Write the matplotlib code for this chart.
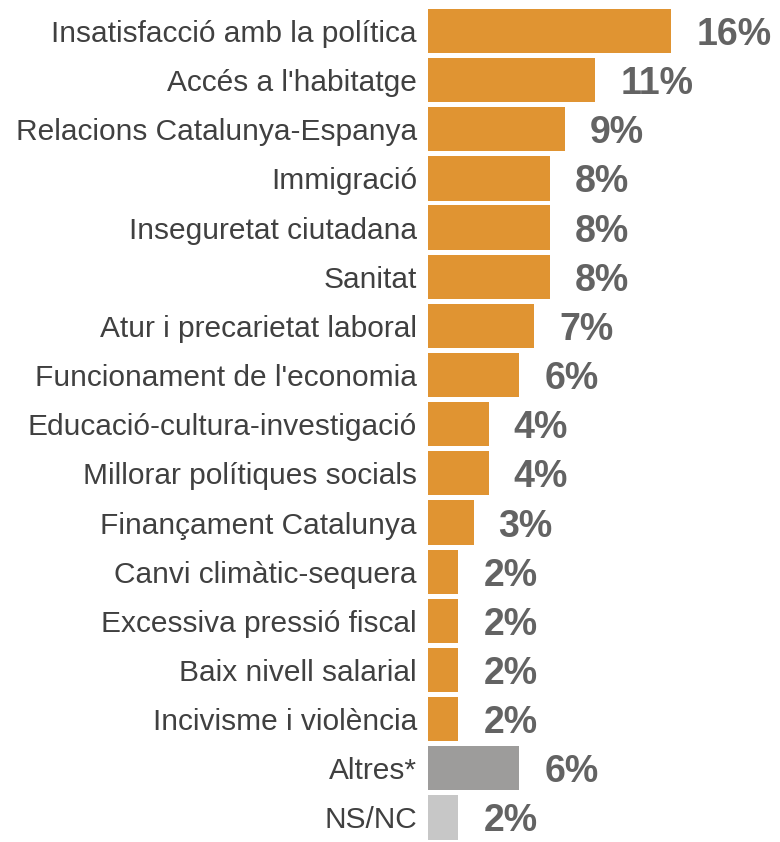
import matplotlib
matplotlib.use("Agg")
import matplotlib.pyplot as plt

categories = [
    "Insatisfacció amb la política",
    "Accés a l'habitatge",
    "Relacions Catalunya-Espanya",
    "Immigració",
    "Inseguretat ciutadana",
    "Sanitat",
    "Atur i precarietat laboral",
    "Funcionament de l'economia",
    "Educació-cultura-investigació",
    "Millorar polítiques socials",
    "Finançament Catalunya",
    "Canvi climàtic-sequera",
    "Excessiva pressió fiscal",
    "Baix nivell salarial",
    "Incivisme i violència",
    "Altres*",
    "NS/NC",
]
values = [16, 11, 9, 8, 8, 8, 7, 6, 4, 4, 3, 2, 2, 2, 2, 6, 2]
value_labels = ["16%", "11%", "9%", "8%", "8%", "8%", "7%", "6%", "4%", "4%",
                "3%", "2%", "2%", "2%", "2%", "6%", "2%"]

ORANGE = "#E09432"
GREY = "#9D9C9B"
LIGHT = "#C7C7C7"
colors = [ORANGE] * 15 + [GREY, LIGHT]

plt.rcParams['font.family'] = ['Liberation Sans', 'DejaVu Sans']

W, H = 780, 842
fig = plt.figure(figsize=(W / 100, H / 100), dpi=100)
left = 428 / W
top_px = 6.4
ax = fig.add_axes([left, 0, 304 / W, (H - top_px) / H])

y = list(range(len(categories)))
ax.barh(y, values, height=0.9, color=colors)
ax.set_ylim(len(categories) - 0.5, -0.5)
ax.set_xlim(0, 20)

ax.set_yticks(y)
ax.set_yticklabels(categories, fontsize=21.5, color="#404040")
ax.tick_params(axis='y', length=0, pad=8)
for t in ax.get_yticklabels():
    t.set_verticalalignment('center_baseline')
ax.set_xticks([])
for s in ax.spines.values():
    s.set_visible(False)

for yi, v, lab in zip(y, values, value_labels):
    ax.annotate(lab, xy=(v, yi), xytext=(18, 0), textcoords='offset points',
                ha='left', va='center_baseline', fontsize=27, fontweight='bold',
                color="#636363", clip_on=False)

fig.savefig("out.png", dpi=100)
